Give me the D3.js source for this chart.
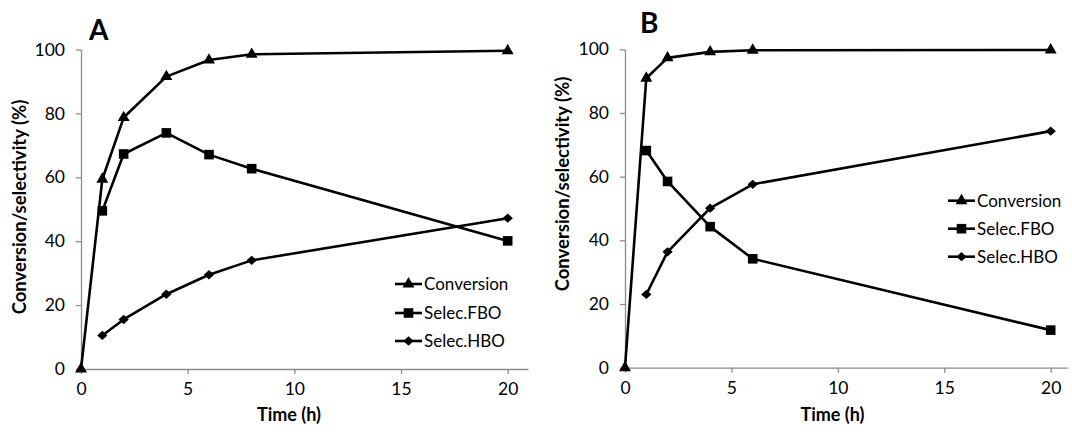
<!DOCTYPE html>
<html>
<head>
<meta charset="utf-8">
<script src="https://cdn.jsdelivr.net/npm/d3@7"></script>
<style>
  body { margin: 0; background: #fff; }
  svg { display: block; }
  text { font-family: Lato, "Open Sans", sans-serif; fill: #000; }
</style>
</head>
<body>
<svg width="1072" height="432"></svg>
<script>
// data
const xTicks = [0, 5, 10, 15, 20];
const yTicks = [0, 20, 40, 60, 80, 100];
const seriesNames = ["Conversion", "Selec.FBO", "Selec.HBO"];

const timeA = [0, 1, 2, 4, 6, 8, 20];
const convA = [0, 59.4, 78.7, 91.5, 96.7, 98.5, 99.6];
const fboA = [null, 49.5, 67.3, 73.9, 67.1, 62.7, 40.1];
const hboA = [null, 10.5, 15.5, 23.4, 29.5, 34.0, 47.2];

const timeB = [0, 1, 2, 4, 6, 20];
const convB = [0, 90.9, 97.3, 99.2, 99.7, 99.8];
const fboB = [null, 68.2, 58.5, 44.3, 34.2, 11.8];
const hboB = [null, 23.0, 36.4, 50.1, 57.6, 74.3];

// custom marker shape for d3.symbol
const wideDiamond = {
  draw(ctx, size) {
    const r = Math.sqrt(size / 2);
    ctx.moveTo(0, -r * 0.95);
    ctx.lineTo(r * 1.05, 0);
    ctx.lineTo(0, r * 0.95);
    ctx.lineTo(-r * 1.05, 0);
    ctx.closePath();
  }
};
const markers = [
  d3.symbol().type(d3.symbolTriangle).size(62),
  d3.symbol().type(d3.symbolSquare).size(92),
  d3.symbol().type(wideDiamond).size(48)
];

const panels = [
  {
    letter: "A", time: timeA, series: [convA, fboA, hboA],
    x0: 81, x20: 507.7, xMax: 20.95, yBot: 369, yTop: 49.5,
    letterX: 89, letterY: 40, yTitleX: 26, yTitleY: 207,
    legX: 395, legY: [284, 313, 341]
  },
  {
    letter: "B", time: timeB, series: [convB, fboB, hboB],
    x0: 625, x20: 1050.7, xMax: 20.8, yBot: 367.7, yTop: 49.3,
    letterX: 640, letterY: 33, yTitleX: 569, yTitleY: 184,
    legX: 948, legY: [200.7, 228.7, 256.7]
  }
];

const svg = d3.select("svg");
const axisGrey = "#8c8c8c";

panels.forEach(p => {
  const g = svg.append("g");
  const pxPerUnit = (p.x20 - p.x0) / 20;
  const x = d3.scaleLinear().domain([0, p.xMax]).range([p.x0, p.x0 + p.xMax * pxPerUnit]);
  const y = d3.scaleLinear().domain([0, 100]).range([p.yBot, p.yTop]);

  // x axis
  const xa = g.append("g")
    .attr("transform", `translate(0,${p.yBot})`)
    .call(d3.axisBottom(x).tickValues(xTicks).tickSizeInner(5).tickSizeOuter(0).tickPadding(9));
  // y axis
  const ya = g.append("g")
    .attr("transform", `translate(${p.x0},0)`)
    .call(d3.axisLeft(y).tickValues(yTicks).tickSizeInner(5).tickSizeOuter(0).tickPadding(11));

  [xa, ya].forEach(a => {
    a.select(".domain").attr("stroke", axisGrey).attr("stroke-width", 1.3);
    a.selectAll(".tick line").attr("stroke", axisGrey).attr("stroke-width", 1.3);
    a.selectAll(".tick text").attr("font-family", "Lato, sans-serif").attr("font-size", 17.5).attr("fill", "#111");
  });

  // axis titles
  g.append("text")
    .attr("x", x(9.75)).attr("y", 421)
    .attr("text-anchor", "middle")
    .attr("font-weight", "bold").attr("font-size", 18)
    .text("Time (h)");
  g.append("text")
    .attr("transform", `translate(${p.yTitleX},${p.yTitleY}) rotate(-90)`)
    .attr("text-anchor", "middle")
    .attr("font-weight", "bold").attr("font-size", 18.5)
    .text("Conversion/selectivity (%)");

  // panel letter
  g.append("text")
    .attr("x", p.letterX).attr("y", p.letterY)
    .attr("font-weight", "bold").attr("font-size", 28)
    .text(p.letter);

  // series
  p.series.forEach((vals, si) => {
    const pts = p.time.map((t, i) => ({ t, v: vals[i] })).filter(d => d.v !== null);
    g.append("path")
      .datum(pts)
      .attr("fill", "none")
      .attr("stroke", "#000")
      .attr("stroke-width", 2.6)
      .attr("stroke-linejoin", "round")
      .attr("d", d3.line().x(d => x(d.t)).y(d => y(d.v)));
    g.selectAll(null)
      .data(pts)
      .enter().append("path")
      .attr("transform", d => `translate(${x(d.t)},${y(d.v)})`)
      .attr("d", markers[si])
      .attr("fill", "#000");
  });

  // legend
  seriesNames.forEach((name, si) => {
    const ly = p.legY[si];
    const lg = g.append("g").attr("transform", `translate(${p.legX},${ly})`);
    lg.append("line")
      .attr("x1", 0).attr("x2", 27)
      .attr("stroke", "#000").attr("stroke-width", 2.6);
    lg.append("path")
      .attr("transform", "translate(13.5,0)")
      .attr("d", markers[si])
      .attr("fill", "#000");
    lg.append("text")
      .attr("x", 29).attr("dy", "0.36em")
      .attr("font-size", 17)
      .text(name);
  });
});
</script>
</body>
</html>
